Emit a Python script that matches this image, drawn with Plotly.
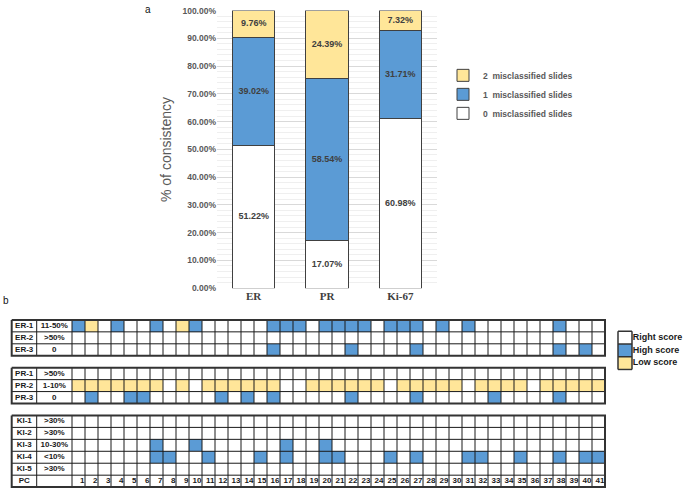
import plotly.graph_objects as go
import numpy as np

W, H = 685, 495

# ---------------- Panel a data ----------------
categories = ["ER", "PR", "Ki-67"]
zero_mis = [51.22, 17.07, 60.98]
one_mis = [39.02, 58.54, 31.71]
two_mis = [9.76, 24.39, 7.32]
series_names = ["0\u00a0 misclassified slides", "1\u00a0 misclassified slides", "2\u00a0 misclassified slides"]
y_tick_vals = [0, 10, 20, 30, 40, 50, 60, 70, 80, 90, 100]
y_tick_text = ["0.00%", "10.00%", "20.00%", "30.00%", "40.00%", "50.00%",
               "60.00%", "70.00%", "80.00%", "90.00%", "100.00%"]

# ---------------- Panel b data ----------------
cases = list(range(1, 42))
row_labels = ["ER-1", "ER-2", "ER-3", "PR-1", "PR-2", "PR-3",
              "KI-1", "KI-2", "KI-3", "KI-4", "KI-5"]
row_ranges = ["11-50%", ">50%", "0", ">50%", "1-10%", "0",
              ">30%", ">30%", "10-30%", "<10%", ">30%"]
block_sizes = [3, 3, 5]  # ER, PR, KI (PC row follows KI)

ER1_high = [1, 4, 7, 10, 16, 17, 18, 20, 21, 22, 23, 25, 26, 27, 29, 31, 38]
ER1_low = [2, 9]
ER2_high = []
ER3_high = [16, 22, 27, 38, 40]
PR1_high = []
PR2_low = [1, 2, 3, 4, 5, 6, 7, 9, 11, 12, 13, 14, 15, 16, 19, 20, 21, 22, 23, 24,
           26, 27, 28, 29, 30, 32, 33, 34, 35, 37, 38, 39, 40, 41]
PR3_high = [2, 5, 6, 12, 14, 16, 22, 27, 33, 38]
KI1_high = []
KI2_high = []
KI3_high = [7, 10, 17, 20]
KI4_high = [7, 8, 11, 15, 17, 20, 21, 25, 27, 31, 32, 35, 38, 40, 41]
KI5_high = []

high_by_row = {"ER-1": ER1_high, "ER-2": ER2_high, "ER-3": ER3_high,
               "PR-1": PR1_high, "PR-2": [], "PR-3": PR3_high,
               "KI-1": KI1_high, "KI-2": KI2_high, "KI-3": KI3_high,
               "KI-4": KI4_high, "KI-5": KI5_high}
low_by_row = {"ER-1": ER1_low, "PR-2": PR2_low}

score_legend = ["Right score", "High score", "Low score"]

# ---------------- styling ----------------
FONT = "Arial, Liberation Sans, sans-serif"
SERIF = "Times New Roman, Liberation Serif, serif"
WHITE = "#ffffff"
BLUE = "#5b9bd5"
YELLOW = "#ffe699"
GRAYTXT = "#595959"
EDGE = "#404040"

def px_x(p):
    return p / W

def px_y(p):
    return 1 - p / H

fig = go.Figure()

# ---------------- Panel a: stacked bars ----------------
stack = [zero_mis, one_mis, two_mis]
for vals, name, col in zip(stack, series_names, [WHITE, BLUE, YELLOW]):
    fig.add_trace(go.Bar(
        x=categories, y=vals, name=name,
        marker=dict(color=col, line=dict(color=EDGE, width=1)),
        textposition="none",
        cliponaxis=False, xaxis="x", yaxis="y", hoverinfo="skip",
    ))

# segment value labels (placed at segment middles derived from the data)
arr = np.array(stack)
bottoms = np.vstack([np.zeros(arr.shape[1]), np.cumsum(arr, axis=0)[:-1]])
mids = bottoms + arr / 2
for i in range(arr.shape[0]):
    fig.add_trace(go.Scatter(
        x=categories, y=mids[i], mode="text",
        text=[f"{v:.2f}%" for v in stack[i]],
        textfont=dict(family=FONT, size=9, color="#404040", weight="bold"),
        cliponaxis=False, xaxis="x", yaxis="y", hoverinfo="skip", showlegend=False))

# ---------------- Panel b: grid ----------------
n_rows_total = sum(block_sizes) + 1 + (len(block_sizes) - 1)  # rows + PC + gaps
z = np.full((n_rows_total, len(cases)), np.nan)
row_pos = []
r = 0
li = 0
block_extents = []
for bi, bs in enumerate(block_sizes):
    start = r
    for k in range(bs):
        lab = row_labels[li]
        z[r, :] = 0
        for c in high_by_row.get(lab, []):
            z[r, c - 1] = 1
        for c in low_by_row.get(lab, []):
            z[r, c - 1] = 2
        row_pos.append(r)
        r += 1
        li += 1
    if bi == len(block_sizes) - 1:
        pc_row = r
        z[r, :] = 0
        r += 1
    block_extents.append((start, r - 1))
    r += 1  # gap row

fig.add_trace(go.Heatmap(
    x=cases, y=list(range(n_rows_total)), z=z,
    colorscale=[[0, WHITE], [0.5, BLUE], [1, YELLOW]], zmin=0, zmax=2,
    showscale=False, xaxis="x2", yaxis="y2", hoverinfo="skip",
))

u = 13.0          # px per case column
X0_PX = 72.0      # pixel of the left edge of case 1
XL1 = 0.5 - (X0_PX - 11.7) / u   # left edge of label column 1
XL2 = 0.5 - (X0_PX - 36.7) / u   # left edge of label column 2
XR = len(cases) + 0.5

inner_x, inner_y, outer_x, outer_y = [], [], [], []
for (s, e) in block_extents:
    y0, y1 = s - 0.5, e + 0.5
    for yy in np.arange(y0 + 1, y1, 1.0):
        inner_x += [XL1, XR, None]
        inner_y += [yy, yy, None]
    for xx in [XL2] + [c + 0.5 for c in [0] + cases[:-1]]:
        inner_x += [xx, xx, None]
        inner_y += [y0, y1, None]
    outer_x += [XL1, XR, XR, XL1, XL1, None]
    outer_y += [y0, y0, y1, y1, y0, None]

fig.add_trace(go.Scatter(x=inner_x, y=inner_y, mode="lines",
                         line=dict(color="#1a1a1a", width=1),
                         xaxis="x2", yaxis="y2", hoverinfo="skip", showlegend=False))
fig.add_trace(go.Scatter(x=outer_x, y=outer_y, mode="lines",
                         line=dict(color="#333333", width=2),
                         xaxis="x2", yaxis="y2", hoverinfo="skip", showlegend=False))

grid_font = dict(family=FONT, size=8, color="#1a1a1a", weight="bold")
fig.add_trace(go.Scatter(
    x=[(XL1 + XL2) / 2] * (len(row_labels) + 1),
    y=row_pos + [pc_row], text=row_labels + ["PC"], mode="text",
    textfont=grid_font, xaxis="x2", yaxis="y2", hoverinfo="skip", showlegend=False))
fig.add_trace(go.Scatter(
    x=[(XL2 + 0.5) / 2] * len(row_ranges), y=row_pos, text=row_ranges, mode="text",
    textfont=grid_font, xaxis="x2", yaxis="y2", hoverinfo="skip", showlegend=False))
fig.add_trace(go.Scatter(
    x=[c + 0.45 for c in cases], y=[pc_row] * len(cases), text=[str(c) for c in cases],
    mode="text", textposition="middle left", textfont=grid_font,
    xaxis="x2", yaxis="y2", hoverinfo="skip", showlegend=False))

# ---------------- Panel b legend ----------------
fig.add_trace(go.Heatmap(
    x=[1], y=[0, 1, 2], z=[[0], [1], [2]],
    colorscale=[[0, WHITE], [0.5, BLUE], [1, YELLOW]], zmin=0, zmax=2,
    showscale=False, xaxis="x3", yaxis="y3", hoverinfo="skip",
))
lx, ly = [], []
for yy in [-0.5, 0.5, 1.5, 2.5]:
    lx += [0.5, 1.5, None]; ly += [yy, yy, None]
for xx in [0.5, 1.5]:
    lx += [xx, xx, None]; ly += [-0.5, 2.5, None]
fig.add_trace(go.Scatter(x=lx, y=ly, mode="lines", line=dict(color="#333333", width=1.5),
                         xaxis="x3", yaxis="y3", hoverinfo="skip", showlegend=False))
fig.add_trace(go.Scatter(x=[1.55] * 3, y=[0, 1, 2], text=score_legend, mode="text",
                         textposition="middle right", cliponaxis=False,
                         textfont=dict(family=FONT, size=9, color="#1a1a1a", weight="bold"),
                         xaxis="x3", yaxis="y3", hoverinfo="skip", showlegend=False))

# ---------------- layout ----------------
x2_lo, x2_hi = -4.4, 41.8
x2_left_px = X0_PX - (0.5 - x2_lo) * u
x2_right_px = x2_left_px + (x2_hi - x2_lo) * u
ROW0_PX = 327.5
ru = 12.19
y2_top_px = ROW0_PX - 0.7 * ru
y2_bot_px = ROW0_PX + (n_rows_total - 1 + 0.7) * ru

hidden = dict(showgrid=False, zeroline=False, showticklabels=False, ticks="", showline=False)

fig.update_layout(
    width=W, height=H, autosize=False,
    margin=dict(l=0, r=0, t=0, b=0),
    paper_bgcolor="white", plot_bgcolor="white",
    barmode="stack", bargap=0.427,
    font=dict(family=FONT),
    showlegend=True,
    legend=dict(x=px_x(443), y=px_y(57), xanchor="left", yanchor="top",
                traceorder="reversed", bgcolor="rgba(0,0,0,0)",
                font=dict(family=FONT, size=8.5, color=GRAYTXT, weight="bold"),
                itemwidth=30),
    xaxis=dict(domain=[px_x(217), px_x(437)], range=[-0.5, 2.5],
               showgrid=False, zeroline=False, showline=False, ticks="",
               tickfont=dict(family=SERIF, size=11, color="#404040", weight="bold"),
               anchor="y"),
    yaxis=dict(domain=[px_y(289), px_y(5.7)], range=[0, 100],
               tickvals=y_tick_vals, ticktext=y_tick_text,
               tickfont=dict(family=FONT, size=8.5, color=GRAYTXT, weight="bold"),
               showgrid=True, gridcolor="#d9d9d9", gridwidth=1,
               minor=dict(dtick=2, showgrid=True, gridcolor="#efefef", gridwidth=1),
               zeroline=False, showline=False, ticks="", anchor="x"),
    xaxis2=dict(domain=[px_x(x2_left_px), px_x(x2_right_px)], range=[x2_lo, x2_hi],
                anchor="y2", **hidden),
    yaxis2=dict(domain=[px_y(y2_bot_px), px_y(y2_top_px)],
                range=[n_rows_total - 1 + 0.7, -0.7], anchor="x2", **hidden),
    xaxis3=dict(domain=[px_x(616.6), px_x(633.4)], range=[0.4, 1.6], anchor="y3", **hidden),
    yaxis3=dict(domain=[px_y(373.3), px_y(331.7)], range=[2.6, -0.6], anchor="x3", **hidden),
    annotations=[
        dict(text="% of consistency", x=px_x(166), y=px_y(148), xref="paper", yref="paper",
             textangle=-90, showarrow=False, xanchor="center", yanchor="middle",
             font=dict(family=FONT, size=14, color=GRAYTXT)),
        dict(text="a", x=px_x(148), y=px_y(5), xref="paper", yref="paper",
             showarrow=False, xanchor="center", yanchor="middle",
             font=dict(family=FONT, size=10, color="#111111")),
        dict(text="b", x=px_x(6), y=px_y(302), xref="paper", yref="paper",
             showarrow=False, xanchor="center", yanchor="middle",
             font=dict(family=FONT, size=10, color="#111111")),
    ],
)

fig.write_html("out.html",
               config={"displayModeBar": False},
               post_script="document.body.style.margin='0';document.body.style.padding='0';"
                           "document.body.style.overflow='hidden';")
